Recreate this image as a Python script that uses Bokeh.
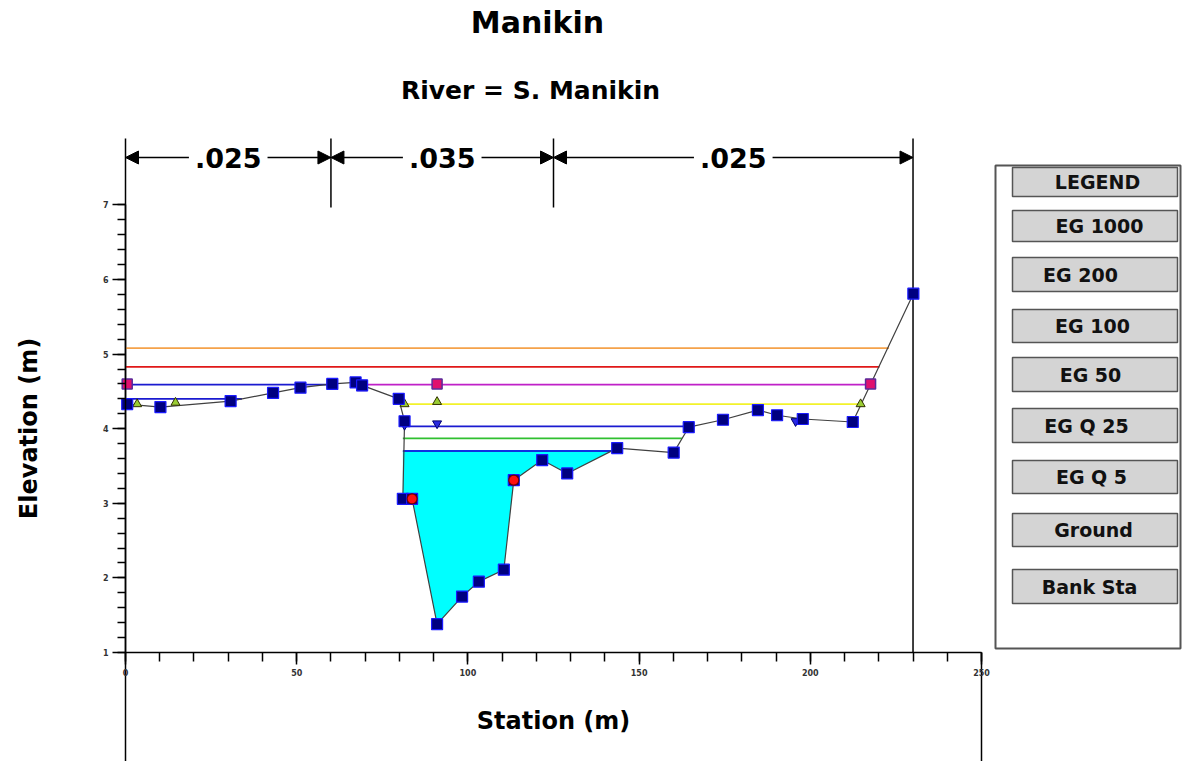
import numpy as np
from bokeh.plotting import figure
from bokeh.models import Range1d, LinearAxis, SingleIntervalTicker, Label, Arrow, NormalHead
from bokeh.embed import file_html
from bokeh.resources import INLINE

# ---------------- data ----------------
stations = [0.5, 10.2, 30.7, 43.1, 51.1, 60.4, 67.2, 69.1, 79.8, 81.5, 81.0, 83.7,
            91.0, 98.3, 103.2, 110.5, 113.4, 121.7, 129.0, 143.6, 160.1, 164.5,
            174.5, 184.7, 190.3, 197.8, 212.4, 230.1]
elevations = [4.33, 4.29, 4.37, 4.48, 4.55, 4.60, 4.62, 4.58, 4.40, 4.10, 3.06, 3.06,
              1.38, 1.75, 1.95, 2.11, 3.31, 3.58, 3.40, 3.74, 3.68, 4.02,
              4.12, 4.25, 4.18, 4.13, 4.09, 5.81]

bank_sta = [83.7, 113.4]
bank_elev = [3.06, 3.31]

eg_names = ["EG 1000", "EG 200", "EG 100", "EG 50", "EG Q 25", "EG Q 5"]
eg_elev = [5.08, 4.83, 4.59, 4.33, 4.03, 3.87]
eg_start = [0.0, 0.0, 69.1, 81.0, 81.0, 81.0]
eg_end = [223.0, 220.2, 217.6, 214.7, 164.5, 162.5]

lob_elev = [4.59, 4.40]
lob_start = [0.0, 0.0]
lob_end = [60.4, 34.0]

ws_elev = 3.70
ws_start = 81.0

eg100_mark_x = [0.5, 60.4, 69.1, 91.0, 217.6]
eg100_mark_y = [4.60, 4.60, 4.58, 4.60, 4.60]
eg50_mark_x = [3.4, 14.6, 81.5, 91.0, 214.7]
eg50_mark_y = [4.33, 4.35, 4.33, 4.36, 4.33]
egq25_mark_x = [81.5, 91.0, 164.5, 195.7]
egq25_mark_y = [4.05, 4.07, 4.03, 4.10]

n_values = [".025", ".035", ".025"]
n_breaks = [0, 60, 125, 230]

legend_items = ["LEGEND"] + eg_names + ["Ground", "Bank Sta"]

x_ticks_interval = 50
y_ticks_interval = 1

# ---------------- pixel layout helpers ----------------
W, H = 1183, 761
PX0, PPX = 125.0, 3.424     # pixel of station 0, px per m
PY1, PPY = 652.0, 74.6      # pixel of elevation 1, px per m


def X(px):
    return (px - PX0) / PPX


def Y(py):
    return 1 + (PY1 - py) / PPY


p = figure(width=W, height=H, x_range=Range1d(X(0), X(W)), y_range=Range1d(Y(H), Y(0)),
           x_axis_type=None, y_axis_type=None, toolbar_location=None,
           output_backend="svg", min_border=0, outline_line_color=None)
p.background_fill_color = "white"
p.border_fill_color = "white"

FONT = "DejaVu Sans"

# axes
xaxis = LinearAxis(fixed_location=1.0, bounds=(0, 250),
                   ticker=SingleIntervalTicker(interval=x_ticks_interval, num_minor_ticks=5),
                   axis_label="Station (m)")
yaxis = LinearAxis(fixed_location=0.0, bounds=(1, 7),
                   ticker=SingleIntervalTicker(interval=y_ticks_interval, num_minor_ticks=5),
                   axis_label="Elevation (m)")
for ax in (xaxis, yaxis):
    ax.axis_line_color = "black"
    ax.axis_line_width = 1.5
    ax.major_tick_line_color = "black"
    ax.minor_tick_line_color = "black"
    ax.major_tick_line_width = 1.5
    ax.minor_tick_line_width = 1.5
    ax.major_tick_in = 0
    ax.minor_tick_in = 0
    ax.major_label_text_font = FONT
    ax.major_label_text_font_size = "8px"
    ax.major_label_text_font_style = "bold"
    ax.major_label_text_color = "#333333"
    ax.axis_label_text_font = FONT
    ax.axis_label_text_font_style = "bold"
    ax.axis_label_text_font_size = "24px"
    ax.axis_label_text_color = "black"
xaxis.major_tick_out = 12
xaxis.minor_tick_out = 9
xaxis.major_label_standoff = 4
xaxis.axis_label_standoff = 28
yaxis.major_tick_out = 13
yaxis.minor_tick_out = 8
yaxis.major_label_standoff = 4
yaxis.axis_label_standoff = 57
p.add_layout(xaxis, "below")
p.add_layout(yaxis, "left")

# frame lines
top_y = Y(138)
p.segment(x0=[0, 230, 250, n_breaks[1], n_breaks[2]],
          y0=[Y(H), 1, Y(H), Y(207), Y(207)],
          x1=[0, 230, 250, n_breaks[1], n_breaks[2]],
          y1=[top_y, top_y, 1, top_y, top_y],
          line_color="black", line_width=1.5)

# Manning's n bar
yn = Y(157)
for i, txt in enumerate(n_values):
    a, b = n_breaks[i], n_breaks[i + 1]
    mid = (a + b) / 2
    for end in (a, b):
        p.add_layout(Arrow(end=NormalHead(size=13, fill_color="black", line_color="black"),
                           x_start=mid, y_start=yn, x_end=end, y_end=yn,
                           line_color="black", line_width=1.5))
    p.add_layout(Label(x=mid, y=yn, text=txt, text_align="center", text_baseline="middle",
                       text_font=FONT, text_font_style="bold", text_font_size="27px",
                       text_color="black", background_fill_color="white", padding=6))

# water fill
st = np.array(stations)
el = np.array(elevations)
ws_end = None
for k in range(len(st) - 1):
    if st[k] > ws_start and el[k] < ws_elev <= el[k + 1]:
        ws_end = st[k] + (ws_elev - el[k]) / (el[k + 1] - el[k]) * (st[k + 1] - st[k])
        break
mask = (st >= ws_start) & (st <= ws_end) & (el < ws_elev)
fx = [ws_start] + list(st[mask]) + [ws_end]
fy = [ws_elev] + list(el[mask]) + [ws_elev]
p.patch(fx, fy, fill_color="#00FFFF", line_color=None)
p.line([ws_start, ws_end], [ws_elev, ws_elev], line_color="#1030E0", line_width=2)

# EG lines
eg_colors = ["#F5A24A", "#E01818", "#C020C8", "#F2F22A", "#1A1AD0", "#30C030"]
for e, s0, s1, c in zip(eg_elev, eg_start, eg_end, eg_colors):
    p.line([s0, s1], [e, e], line_color=c, line_width=1.8)
for e, s0, s1 in zip(lob_elev, lob_start, lob_end):
    p.line([s0, s1], [e, e], line_color="#1A1AD0", line_width=1.8)

# ground
p.line(stations, elevations, line_color="#404040", line_width=1.2)

# profile markers
p.scatter(eg50_mark_x, eg50_mark_y, marker="triangle", size=9,
          fill_color="#9ACD32", line_color="#303000")
p.scatter(egq25_mark_x, egq25_mark_y, marker="inverted_triangle", size=9,
          fill_color="#2A2AE0", line_color="#000070")
p.scatter(eg100_mark_x, eg100_mark_y, marker="square", size=10,
          fill_color="#E0106E", line_color="#5A2A9A", line_width=1.5)

p.scatter(stations, elevations, marker="square", size=11,
          fill_color="#000080", line_color="#1A1AFF", line_width=1.2)
p.scatter(bank_sta, bank_elev, marker="circle", size=10,
          fill_color="#FF1010", line_color="#700000", line_width=1.2)

# titles
p.add_layout(Label(x=X(537), y=Y(22), text="Manikin", text_align="center",
                   text_baseline="middle", text_font=FONT, text_font_style="bold",
                   text_font_size="30px", text_color="black"))
p.add_layout(Label(x=X(530), y=Y(90), text="River = S. Manikin", text_align="center",
                   text_baseline="middle", text_font=FONT, text_font_style="bold",
                   text_font_size="25px", text_color="black"))

# legend panel
p.quad(left=[X(995)], right=[X(1180)], top=[Y(165)], bottom=[Y(648)],
       fill_color=None, line_color="#555555", line_width=2)
btn_top = [167, 210, 257, 309, 357, 408, 460, 513, 569]
btn_bot = [196, 241, 291, 342, 391, 442, 493, 546, 603]
btn_cx = [1097, 1099, 1080, 1092, 1090, 1086, 1091, 1093, 1089]
p.quad(left=[X(1012)] * len(btn_top), right=[X(1177)] * len(btn_top),
       top=[Y(t) for t in btn_top], bottom=[Y(b) for b in btn_bot],
       fill_color="#D4D4D4", line_color="#555555", line_width=1.5)
for name, t, b, cx in zip(legend_items, btn_top, btn_bot, btn_cx):
    p.add_layout(Label(x=X(cx), y=Y((t + b) / 2), text=name, text_align="center",
                       text_baseline="middle", text_font=FONT, text_font_style="bold",
                       text_font_size="19px", text_color="#111111"))

open("out.html", "w").write(file_html(p, INLINE))
